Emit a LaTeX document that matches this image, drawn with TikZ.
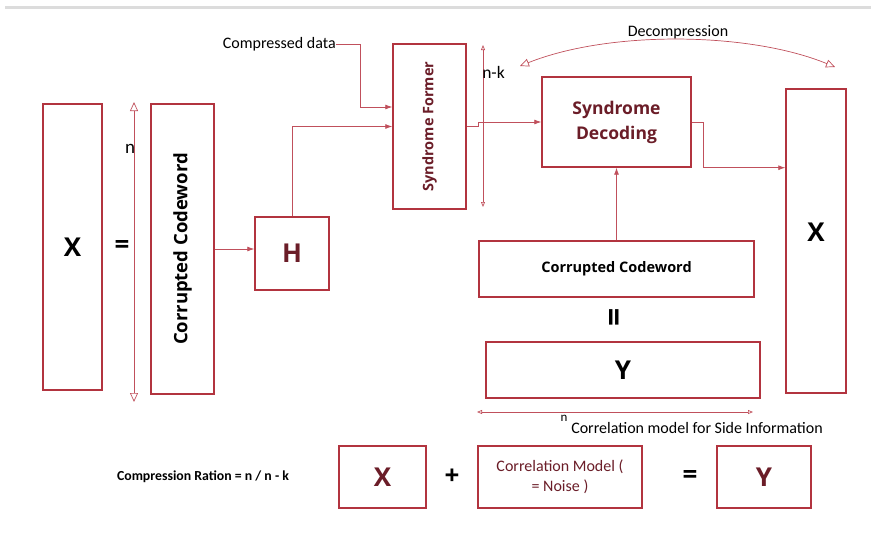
\documentclass[tikz,border=0pt]{standalone}
\usepackage{fontspec}
\setmainfont{Carlito}
\newfontfamily\segoe{Open Sans}
\usetikzlibrary{arrows.meta,calc}
\definecolor{boxred}{HTML}{b2343f}
\definecolor{flowred}{HTML}{c0505c}
\definecolor{textred}{HTML}{6b1d28}
\definecolor{topgray}{HTML}{dcdcdc}

\begin{document}
\begin{tikzpicture}[x=1pt, y=-1pt, line width=0.6pt,
  every node/.style={inner sep=0pt},
  blk/.style={draw=boxred, line width=1.4pt, fill=white},
  flow/.style={flowred, line width=0.8pt, -{Latex[length=7pt,width=5pt]}},
  dim/.style={flowred, line width=0.7pt, {Triangle[open,length=9pt,width=8pt]}-{Triangle[open,length=9pt,width=8pt]}},
  dimsmall/.style={flowred, line width=0.7pt, {Triangle[open,length=5pt,width=4pt]}-{Triangle[open,length=5pt,width=4pt]}},
  big/.style={font=\segoe\bfseries\fontsize{26}{28}\selectfont},
  lbl/.style={font=\fontsize{16}{18}\selectfont}]

\useasboundingbox (0,0) rectangle (871,536);
\draw[topgray, line width=3pt] (5,7) -- (871,7);

% ---------------- left: X = corrupted codeword, H ---------------------------
\node[blk, minimum width=59pt, minimum height=286pt] (xin) at (72.5,247) {};
\node[big] at (xin) {X};
\node[big] at (122,247) {=};
\node[blk, minimum width=63pt, minimum height=290pt] (ccv) at (182.5,249)
  {\rotatebox{90}{\segoe\bfseries\fontsize{18.5}{20}\selectfont Corrupted Codeword}};
\draw[dim] (134,102) -- (134,402);
\node[font=\fontsize{19}{21}\selectfont] at (130,149) {n};
\node[blk, minimum width=74pt, minimum height=73pt, text=textred, big] (hbox) at (292,253.5) {H};

% ---------------- middle: syndrome former / decoding ------------------------
\node[lbl, anchor=east] (cdata) at (336,44) {Compressed data};
\node[blk, minimum width=73pt, minimum height=165pt] (sform) at (429.5,126.5)
  {\rotatebox{90}{\segoe\bfseries\fontsize{14.5}{16}\selectfont\color{textred}Syndrome Former}};
\draw[dimsmall] (483,45) -- (483,207);
\node[font=\fontsize{17.5}{19}\selectfont, anchor=west] at (482,72) {n-k};
\node[blk, minimum width=149pt, minimum height=90pt, text=textred, align=center,
  font=\segoe\bfseries\fontsize{17.5}{25}\selectfont] (sdec) at (616.5,122) {Syndrome\\Decoding};
\node[blk, minimum width=60pt, minimum height=304pt] (xout) at (816,241) {};
\node[big] at (xout.center) [yshift=9pt] {X};

\node[blk, minimum width=275pt, minimum height=56pt,
  font=\segoe\bfseries\fontsize{14.5}{16}\selectfont] (cch) at (616.5,269) {Corrupted Codeword};
\node[big, rotate=90, font=\segoe\bfseries\fontsize{32}{34}\selectfont] at (617,317) {=};
\node[blk, minimum width=274pt, minimum height=56pt, big] (ybox) at (623,370) {Y};
\draw[dimsmall] (477,412) -- (753,412);
\node[font=\fontsize{13}{15}\selectfont] at (564,418) {n};
\node[lbl] at (697,428) {Correlation model for Side Information};

% decompression arc
\node[lbl] (dtxt) at (678,32) {Decompression};
\draw[dim] (520,66) .. controls (610,30) and (750,32) .. (835,67);

% ---------------- arrows ---------------------------------------------------
\draw[flow] (ccv.east) -- (ccv.east -| hbox.west);
\draw[flow] (hbox.north) |- (sform.west);
\draw[flow] (cdata.east) -- (360,44) -- (360,107) -- (sform.west |- 360,107);
\draw[flow] (sform.east) -- ++(12,0) |- (sdec.west);
\draw[flow] (sdec.east) -- ++(12,0) |- (sdec.south -| xout.west);
\draw[flow] (cch.north) -- (sdec.south);

% ---------------- bottom: compression ratio and noise model ----------------
\node[font=\bfseries\fontsize{13.8}{15}\selectfont] at (203,477) {Compression Ration = n / n - k};
\node[blk, minimum width=87pt, minimum height=62pt, big, text=textred] (xs) at (382.5,477) {X};
\node[big] at (452,477) {+};
\node[blk, minimum width=164pt, minimum height=62pt, text=textred, align=center,
  font=\fontsize{16}{20}\selectfont] (corr) at (560,477) {Correlation Model (\\= Noise )};
\node[big] at (690,477) {=};
\node[blk, minimum width=94pt, minimum height=62pt, big, text=textred] (ys) at (764,477) {Y};

\end{tikzpicture}
\end{document}
